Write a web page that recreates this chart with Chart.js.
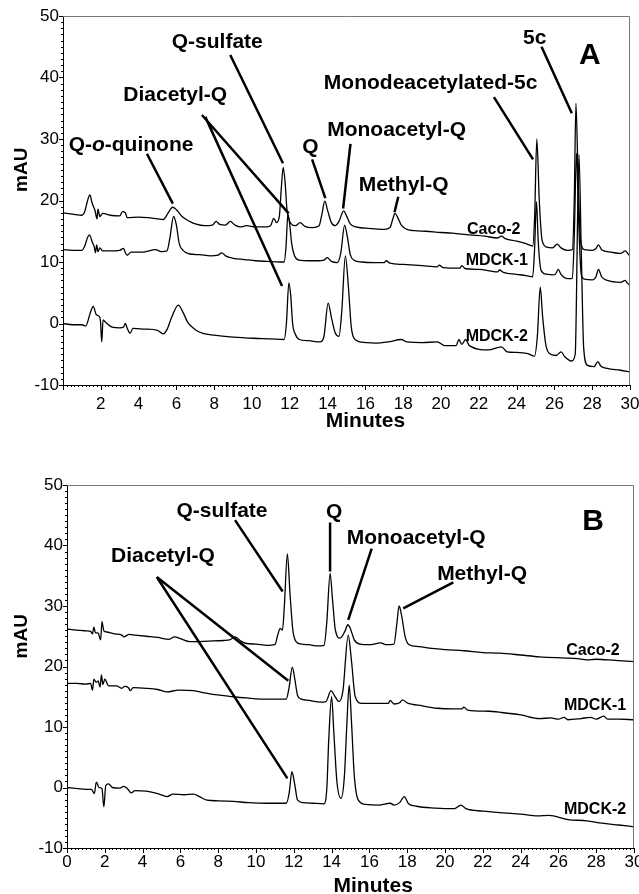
<!DOCTYPE html>
<html>
<head>
<meta charset="utf-8">
<script src="https://cdn.jsdelivr.net/npm/chart.js@4.4.0/dist/chart.umd.min.js"></script>
<style>
    html, body { margin: 0; padding: 0; background: #fff; }
    #wrapA { position: absolute; left: 0; top: 0; width: 639px; height: 430px; }
    #wrapB { position: absolute; left: 0; top: 440px; width: 639px; height: 454px; }
</style>
</head>
<body>
<div id="wrapA"><canvas id="chartA"></canvas></div>
<div id="wrapB"><canvas id="chartB"></canvas></div>
<script>
// ---- panel A traces: [minutes, mAU] ----
const caco2A = [
    [0, 18.0], [0.5, 17.8], [1.0, 17.6], [1.15, 18.2], [1.3, 20.0], [1.42, 20.9], [1.55, 19.5],
    [1.7, 18.3], [1.8, 17.0], [1.85, 18.6], [1.95, 17.4], [2.1, 17.9], [2.5, 17.6], [3.0, 17.5],
    [3.15, 18.2], [3.3, 18.0], [3.4, 17.2], [4.0, 17.3], [4.5, 17.2], [5.0, 17.0], [5.3, 16.9],
    [5.55, 17.9], [5.8, 18.9], [6.0, 18.5], [6.3, 17.4], [6.7, 16.6], [7.0, 16.2], [7.5, 15.9],
    [7.9, 16.0], [8.1, 16.6], [8.3, 16.1], [8.6, 16.0], [8.85, 16.6], [9.1, 16.0], [9.4, 15.7],
    [9.7, 15.9], [10.2, 15.7], [10.8, 15.7], [11.0, 16.0], [11.15, 17.1], [11.3, 16.4],
    [11.45, 17.5], [11.55, 22.0], [11.65, 25.4], [11.75, 23.0], [11.85, 18.5], [11.95, 17.0],
    [12.05, 16.3], [12.3, 15.9], [12.55, 16.4], [12.8, 15.8], [13.2, 15.6], [13.55, 15.9],
    [13.7, 17.8], [13.85, 19.9], [14.0, 18.4], [14.2, 16.4], [14.4, 15.9], [14.6, 16.6],
    [14.85, 18.3], [15.0, 17.5], [15.2, 16.2], [15.5, 15.7], [16.0, 15.5], [16.5, 15.4],
    [17.0, 15.3], [17.3, 15.6], [17.45, 17.0], [17.56, 17.9], [17.7, 17.3], [17.9, 16.0],
    [18.2, 15.3], [18.6, 15.1], [19.2, 15.0], [20.0, 14.8], [20.6, 14.7], [21.5, 14.4],
    [22.3, 14.2], [23.0, 13.9], [23.2, 14.2], [23.4, 13.8], [24.0, 13.4], [24.5, 13.0],
    [24.85, 12.6], [24.95, 17.0], [25.07, 30.0], [25.2, 20.0], [25.35, 13.5], [25.6, 12.4],
    [25.9, 12.3], [26.15, 12.9], [26.35, 12.3], [26.7, 11.9], [26.95, 12.0], [27.05, 20.0],
    [27.14, 35.8], [27.25, 24.0], [27.38, 13.5], [27.6, 12.0], [28.0, 11.9], [28.2, 12.2],
    [28.33, 12.8], [28.5, 12.0], [29.0, 11.6], [29.5, 11.4], [29.75, 11.8], [29.9, 11.3], [30.0, 11.0]
];
const mdck1A = [
    [0, 12.0], [0.5, 11.9], [1.0, 11.9], [1.15, 12.6], [1.3, 14.0], [1.4, 14.4], [1.55, 13.2],
    [1.65, 12.5], [1.72, 11.5], [1.78, 12.8], [1.85, 11.7], [1.95, 12.3], [2.1, 11.8], [2.5, 11.8],
    [3.0, 11.9], [3.2, 12.2], [3.3, 11.5], [3.4, 11.1], [3.6, 11.6], [4.2, 11.6], [4.9, 12.0],
    [5.2, 11.7], [5.5, 11.8], [5.65, 13.8], [5.85, 17.4], [6.0, 16.0], [6.15, 13.0], [6.35, 11.9],
    [6.7, 11.3], [7.2, 11.2], [7.8, 11.0], [8.2, 11.1], [8.4, 11.5], [8.6, 11.0], [9.0, 10.6],
    [9.6, 10.4], [10.2, 10.2], [10.8, 10.1], [11.5, 10.0], [11.7, 10.0], [11.8, 12.5],
    [11.9, 17.8], [12.0, 16.0], [12.1, 13.0], [12.25, 11.0], [12.5, 10.3], [13.0, 10.2],
    [13.5, 10.2], [13.8, 10.3], [13.98, 10.7], [14.2, 10.1], [14.5, 9.9], [14.7, 11.5],
    [14.9, 16.0], [15.05, 14.0], [15.2, 11.2], [15.4, 10.3], [15.8, 10.0], [16.5, 9.9],
    [17.0, 9.9], [17.1, 10.2], [17.3, 9.8], [18.0, 9.6], [19.0, 9.4], [19.8, 9.2], [19.9, 9.5],
    [20.1, 9.1], [21.0, 9.0], [21.1, 9.4], [21.3, 8.9], [22.0, 8.8], [23.0, 8.4], [23.1, 8.7],
    [23.3, 8.3], [24.0, 8.0], [24.5, 7.8], [24.85, 7.6], [24.95, 12.0], [25.05, 19.8],
    [25.15, 13.0], [25.3, 8.6], [25.6, 8.0], [25.9, 7.9], [26.05, 8.0], [26.2, 8.8], [26.35, 8.0],
    [26.7, 7.3], [26.95, 7.3], [27.05, 14.0], [27.17, 27.7], [27.28, 17.0], [27.42, 8.0],
    [27.6, 7.2], [28.0, 7.1], [28.2, 7.6], [28.33, 8.8], [28.5, 7.6], [28.8, 7.0], [29.5, 6.7],
    [29.75, 7.0], [29.85, 6.6], [30.0, 6.2]
];
const mdck2A = [
    [0, 0.0], [0.5, -0.2], [1.0, -0.2], [1.2, -0.4], [1.45, 1.8], [1.6, 2.8], [1.75, 1.5],
    [1.9, 1.2], [1.98, 0.5], [2.05, -3.0], [2.12, 0.6], [2.25, 0.2], [2.6, -0.6], [3.0, -0.7],
    [3.2, -0.6], [3.3, 0.0], [3.4, -0.8], [3.55, -1.6], [3.7, -0.8], [4.3, -0.9], [5.0, -1.1],
    [5.3, -1.7], [5.5, -1.0], [5.75, 1.0], [6.1, 3.0], [6.35, 1.8], [6.6, 0.2], [7.0, -1.0],
    [7.4, -1.6], [8.0, -1.9], [9.0, -2.2], [10.1, -2.4], [11.0, -2.5], [11.7, -2.6], [11.82, 0.0],
    [11.95, 6.6], [12.05, 4.5], [12.15, 0.0], [12.3, -1.8], [12.5, -2.6], [13.0, -2.8],
    [13.6, -3.0], [13.8, -2.2], [14.03, 3.3], [14.2, 1.0], [14.4, -1.5], [14.6, -2.1],
    [14.75, 2.0], [14.94, 11.0], [15.1, 6.0], [15.25, -0.5], [15.45, -2.6], [16.0, -3.1],
    [16.5, -3.2], [17.2, -3.0], [17.9, -2.6], [18.2, -3.0], [19.0, -3.1], [19.8, -3.0],
    [20.2, -3.6], [20.8, -3.6], [20.95, -2.6], [21.1, -3.4], [21.3, -2.6], [21.5, -3.6],
    [22.5, -4.3], [23.2, -3.8], [23.5, -4.6], [24.0, -4.7], [24.6, -4.9], [24.95, -5.3],
    [25.1, -2.0], [25.25, 5.9], [25.38, 1.0], [25.55, -3.5], [25.8, -5.0], [26.1, -5.2],
    [26.35, -4.6], [26.55, -5.4], [26.9, -6.1], [27.1, -5.0], [27.3, 27.5], [27.42, 12.0],
    [27.55, -4.0], [27.75, -6.8], [28.1, -7.0], [28.3, -6.2], [28.45, -6.9], [28.8, -7.3],
    [29.5, -7.6], [30.0, -7.9]
];

// ---- panel B traces ----
const caco2B = [
    [0, 26.2], [0.5, 26.0], [1.0, 25.9], [1.25, 25.8], [1.35, 25.4], [1.42, 26.5], [1.5, 25.6],
    [1.65, 25.5], [1.78, 24.4], [1.85, 27.4], [1.95, 25.9], [2.1, 25.7], [2.5, 25.4], [2.9, 25.2],
    [3.0, 24.9], [3.3, 25.3], [3.6, 25.2], [4.2, 25.0], [4.8, 24.8], [5.4, 24.5], [5.7, 24.9],
    [6.0, 24.6], [6.5, 24.1], [7.5, 24.2], [8.3, 24.3], [8.6, 24.4], [8.9, 24.9], [9.2, 24.2],
    [9.5, 23.8], [10.0, 23.7], [10.6, 23.5], [11.0, 23.6], [11.15, 25.2], [11.28, 26.3],
    [11.4, 26.0], [11.5, 30.0], [11.66, 38.6], [11.8, 32.0], [11.95, 26.0], [12.1, 24.2],
    [12.4, 23.7], [12.8, 23.6], [13.3, 23.4], [13.6, 23.5], [13.75, 27.5], [13.92, 35.4],
    [14.05, 31.0], [14.2, 26.0], [14.45, 24.7], [14.7, 25.8], [14.86, 26.9], [15.0, 26.2],
    [15.2, 24.4], [15.5, 23.7], [16.0, 23.6], [16.6, 23.9], [16.9, 23.6], [17.3, 23.7],
    [17.45, 27.0], [17.57, 30.0], [17.7, 28.5], [17.9, 24.8], [18.1, 23.6], [18.6, 23.3],
    [19.3, 23.0], [20.0, 22.8], [21.0, 22.6], [22.0, 22.3], [22.9, 22.2], [24.0, 21.9],
    [25.0, 21.6], [26.4, 21.4], [27.0, 21.3], [27.5, 21.1], [28.0, 21.2], [29.0, 21.0], [30.0, 20.8]
];
const mdck1B = [
    [0, 17.2], [0.5, 17.2], [1.0, 17.1], [1.25, 17.2], [1.35, 16.1], [1.42, 17.9], [1.55, 17.4],
    [1.65, 17.6], [1.75, 16.6], [1.82, 18.6], [1.9, 17.0], [2.0, 17.9], [2.2, 16.8], [2.6, 16.8],
    [2.9, 16.4], [3.05, 16.7], [3.25, 16.5], [3.35, 16.0], [3.5, 16.5], [4.2, 16.4], [4.8, 16.2],
    [5.3, 15.8], [5.9, 16.1], [6.7, 16.0], [7.2, 15.7], [7.7, 15.4], [8.3, 15.2], [8.8, 15.0],
    [9.5, 14.8], [10.6, 14.6], [11.6, 14.6], [11.75, 16.5], [11.92, 19.9], [12.05, 18.0],
    [12.2, 15.2], [12.4, 14.6], [12.8, 14.4], [13.4, 14.1], [13.7, 14.2], [13.97, 16.0],
    [14.15, 15.2], [14.4, 14.2], [14.6, 16.0], [14.88, 25.2], [15.05, 21.0], [15.25, 15.0],
    [15.6, 13.9], [16.2, 13.9], [17.0, 13.9], [17.1, 14.4], [17.3, 13.8], [17.6, 14.0],
    [17.75, 14.5], [18.0, 14.0], [18.8, 13.5], [19.6, 13.1], [20.4, 13.0], [20.9, 13.0],
    [21.0, 13.3], [21.2, 12.8], [22.3, 12.6], [23.0, 12.4], [24.0, 12.0], [25.0, 11.4],
    [25.6, 11.5], [26.0, 11.3], [26.3, 11.6], [26.5, 11.2], [27.2, 11.4], [27.7, 11.6],
    [28.0, 11.3], [28.4, 11.8], [28.6, 11.3], [29.2, 11.3], [30.0, 11.2]
];
const mdck2B = [
    [0, 0.0], [0.6, -0.2], [1.0, -0.3], [1.3, -0.3], [1.45, -1.0], [1.55, 0.9], [1.7, 0.0],
    [1.85, -0.2], [1.95, -3.2], [2.05, 0.3], [2.2, 0.6], [2.4, 0.0], [2.8, -0.1], [3.0, 0.2],
    [3.2, -0.2], [3.4, -0.9], [3.6, -0.5], [4.2, -0.6], [4.8, -1.0], [5.3, -1.5], [5.6, -1.1],
    [6.2, -1.2], [6.7, -1.1], [7.0, -1.5], [7.4, -2.1], [8.0, -2.2], [8.8, -2.3], [9.6, -2.5],
    [10.6, -2.6], [11.6, -2.6], [11.75, -1.0], [11.9, 2.6], [12.05, 0.5], [12.2, -2.1],
    [12.5, -2.5], [13.0, -2.6], [13.6, -2.7], [13.75, 0.0], [13.85, 8.0], [14.0, 15.0],
    [14.12, 9.0], [14.28, 1.0], [14.5, -1.8], [14.68, 2.0], [14.8, 10.0], [14.93, 16.9],
    [15.05, 11.0], [15.2, 2.0], [15.4, -2.0], [15.8, -2.8], [16.5, -2.9], [17.1, -2.6],
    [17.3, -2.9], [17.6, -2.5], [17.85, -1.5], [18.05, -2.6], [18.5, -3.1], [19.5, -3.4],
    [20.5, -3.5], [20.85, -2.9], [21.1, -3.5], [22.0, -3.9], [23.1, -4.2], [24.0, -4.4],
    [24.9, -4.7], [25.5, -4.6], [26.5, -5.3], [27.5, -5.5], [28.3, -5.9], [29.2, -6.2], [30.0, -6.5]
];

// ---- annotations (data coordinates) ----
const peakLabelsA = [
    ["Q-sulfate", 8.16, 45.8], ["Diacetyl-Q", 5.94, 37.2], ["Q-o-quinone", 3.60, 29.0],
    ["Q", 13.09, 28.7], ["Monoacetyl-Q", 17.65, 31.5], ["Methyl-Q", 18.02, 22.5],
    ["Monodeacetylated-5c", 19.45, 39.1], ["5c", 24.96, 46.4]
];
const leadersA = [
    [8.85, 43.66, 11.64, 26.05], [7.35, 33.9, 11.94, 17.9], [7.53, 33.6, 11.59, 6.1],
    [4.44, 27.6, 5.81, 19.5], [13.18, 26.7, 13.88, 20.4], [15.21, 29.2, 14.82, 18.7],
    [17.74, 20.6, 17.54, 18.1], [22.80, 36.8, 24.87, 26.7], [25.32, 45.0, 26.92, 34.2]
];
const traceLabelsA = [["Caco-2", 22.79, 15.2], ["MDCK-1", 22.95, 10.3], ["MDCK-2", 22.95, -2.2]];

const peakLabelsB = [
    ["Q-sulfate", 8.20, 45.7], ["Diacetyl-Q", 5.08, 38.3], ["Q", 14.13, 45.5],
    ["Monoacetyl-Q", 18.47, 41.2], ["Methyl-Q", 21.96, 35.3]
];
const leadersB = [
    [8.89, 44.2, 11.41, 32.4], [4.75, 34.8, 11.71, 17.65], [4.75, 34.8, 11.66, 1.5],
    [13.92, 43.8, 13.92, 35.7], [16.12, 39.5, 14.88, 27.7], [20.44, 33.9, 17.79, 29.6]
];
const traceLabelsB = [["Caco-2", 27.83, 22.6], ["MDCK-1", 27.94, 13.5], ["MDCK-2", 27.94, -3.6]];

const FONT = '"Liberation Sans", Arial, Helvetica, sans-serif';

function toPoints(arr) {
    return arr.map(p => ({ x: p[0], y: p[1] }));
}

function drawLabel(ctx, text, px, py) {
    // "o" in Q-o-quinone is set in italics
    if (text === "Q-o-quinone") {
        const parts = [["Q-", "bold"], ["o", "italic bold"], ["-quinone", "bold"]];
        let total = 0;
        const widths = parts.map(([s, w]) => {
            ctx.font = `${w} 21px ${FONT}`;
            const m = ctx.measureText(s).width;
            total += m;
            return m;
        });
        let cx = px - total / 2;
        ctx.textAlign = "left";
        parts.forEach(([s, w], i) => {
            ctx.font = `${w} 21px ${FONT}`;
            ctx.fillText(s, cx, py);
            cx += widths[i];
        });
        ctx.textAlign = "center";
        return;
    }
    ctx.fillText(text, px, py);
}

const decorPlugin = {
    id: "decor",
    afterDraw(chart, args, opts) {
        const { ctx, chartArea: a, scales: { x, y } } = chart;
        ctx.save();

        // top / right frame
        ctx.strokeStyle = "#777";
        ctx.lineWidth = 1;
        ctx.beginPath();
        ctx.moveTo(a.left, a.top + 0.5);
        ctx.lineTo(a.right - 0.5, a.top + 0.5);
        ctx.lineTo(a.right - 0.5, a.bottom);
        ctx.stroke();

        // tick marks, major and minor
        ctx.strokeStyle = "#000";
        ctx.beginPath();
        for (let v = -10; v <= 50; v++) {
            const py = Math.round(y.getPixelForValue(v)) + 0.5;
            const len = v % 10 === 0 ? 4 : 2;
            ctx.moveTo(a.left - len, py);
            ctx.lineTo(a.left, py);
        }
        for (let i = 0; i <= 150; i++) {
            const px = Math.round(x.getPixelForValue(i * 0.2)) + 0.5;
            const len = i % 10 === 0 ? 5 : 2;
            ctx.moveTo(px, a.bottom);
            ctx.lineTo(px, a.bottom + len);
        }
        ctx.stroke();

        // leader lines
        ctx.lineWidth = 2.5;
        ctx.lineCap = "butt";
        ctx.beginPath();
        opts.leaders.forEach(([x1, y1, x2, y2]) => {
            ctx.moveTo(x.getPixelForValue(x1), y.getPixelForValue(y1));
            ctx.lineTo(x.getPixelForValue(x2), y.getPixelForValue(y2));
        });
        ctx.stroke();

        ctx.fillStyle = "#000";
        ctx.textAlign = "center";
        ctx.textBaseline = "middle";

        ctx.font = `bold 21px ${FONT}`;
        opts.peaks.forEach(([t, px, py]) => {
            ctx.font = `bold 21px ${FONT}`;
            drawLabel(ctx, t, x.getPixelForValue(px), y.getPixelForValue(py));
        });

        ctx.font = `bold 16px ${FONT}`;
        opts.traces.forEach(([t, px, py]) => {
            ctx.fillText(t, x.getPixelForValue(px), y.getPixelForValue(py));
        });

        ctx.font = `bold 30px ${FONT}`;
        ctx.fillText(opts.letter[0], x.getPixelForValue(opts.letter[1]), y.getPixelForValue(opts.letter[2]));

        // axis titles
        ctx.font = `bold 21px ${FONT}`;
        ctx.fillText("Minutes", x.getPixelForValue(opts.minutesAt), a.bottom + opts.minutesDy);

        ctx.save();
        ctx.translate(22, y.getPixelForValue(25));
        ctx.rotate(-Math.PI / 2);
        ctx.font = `bold 19px ${FONT}`;
        ctx.fillText("mAU", 0, 0);
        ctx.restore();

        ctx.restore();
    }
};

function makePanel(canvasId, traces, cfg) {
    const datasets = traces.map(tr => ({
        data: toPoints(tr),
        borderColor: "#000",
        borderWidth: 1.3,
        pointRadius: 0,
        fill: false,
        cubicInterpolationMode: "monotone"
    }));
    return new Chart(document.getElementById(canvasId), {
        type: "line",
        data: { datasets },
        options: {
            responsive: true,
            maintainAspectRatio: false,
            animation: false,
            events: [],
            layout: { padding: cfg.padding },
            plugins: {
                legend: { display: false },
                tooltip: { enabled: false },
                decor: cfg.decor
            },
            scales: {
                x: {
                    type: "linear",
                    min: 0,
                    max: 30,
                    border: { display: true, color: "#000", width: 1 },
                    grid: { display: true, drawOnChartArea: false, drawTicks: false },
                    ticks: {
                        stepSize: 2,
                        autoSkip: false,
                        maxRotation: 0,
                        padding: cfg.xPad,
                        color: "#000",
                        font: { family: FONT, size: 17 },
                        callback: v => (cfg.hideZero && v === 0) ? "" : v
                    },
                    afterFit: s => { s.height = cfg.xHeight; s.paddingLeft = 0; s.paddingRight = 0; }
                },
                y: {
                    min: -10,
                    max: 50,
                    border: { display: true, color: "#000", width: 1 },
                    grid: { display: true, drawOnChartArea: false, drawTicks: false },
                    ticks: {
                        stepSize: 10,
                        padding: 4,
                        color: "#000",
                        font: { family: FONT, size: 17 }
                    },
                    afterFit: s => { s.width = cfg.yWidth; s.paddingTop = 0; s.paddingBottom = 0; }
                }
            }
        },
        plugins: [decorPlugin]
    });
}

makePanel("chartA", [caco2A, mdck1A, mdck2A], {
    padding: { top: 16, right: 9, left: 0, bottom: 0 },
    xHeight: 45,
    yWidth: 63,
    xPad: 9,
    hideZero: true,
    decor: {
        peaks: peakLabelsA, leaders: leadersA, traces: traceLabelsA,
        letter: ["A", 27.87, 43.5], minutesAt: 16.0, minutesDy: 36
    }
});

makePanel("chartB", [caco2B, mdck1B, mdck2B], {
    padding: { top: 45, right: 5, left: 0, bottom: 0 },
    xHeight: 46,
    yWidth: 67,
    xPad: 4,
    hideZero: false,
    decor: {
        peaks: peakLabelsB, leaders: leadersB, traces: traceLabelsB,
        letter: ["B", 27.83, 43.9], minutesAt: 16.2, minutesDy: 38
    }
});
</script>
</body>
</html>
